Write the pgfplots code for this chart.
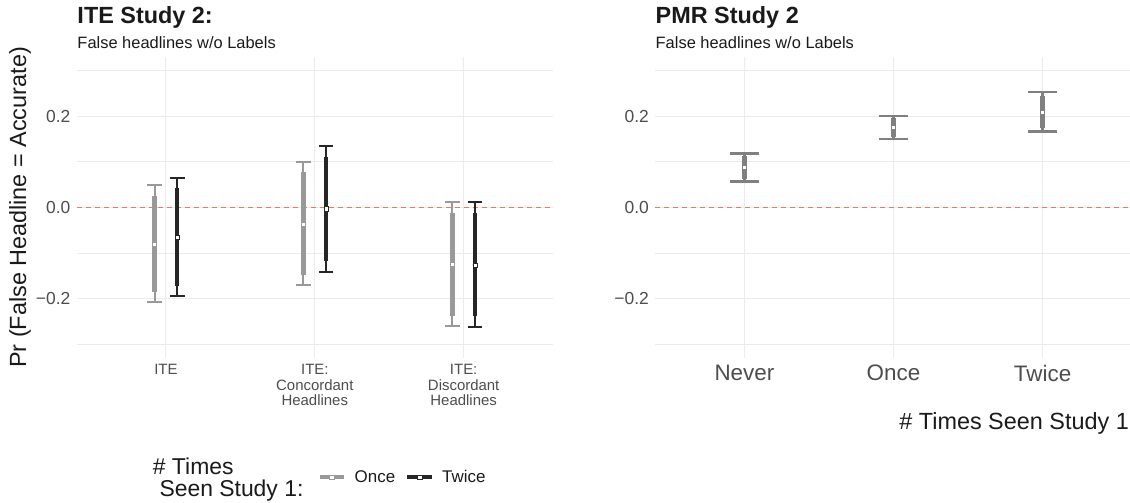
\documentclass[border=0pt]{standalone}
\usepackage{fontspec}
\setmainfont{Liberation Sans}
\usepackage{pgfplots}
\pgfplotsset{compat=1.18}
\usepackage{pgfplotstable}

\definecolor{cOnce}{HTML}{999999}
\definecolor{cTwice}{HTML}{262626}
\definecolor{cPMR}{HTML}{808080}
\definecolor{cGrid}{HTML}{EBEBEB}
\definecolor{cRef}{RGB}{240,118,100}
\definecolor{cTick}{HTML}{4D4D4D}
\definecolor{cText}{HTML}{1A1A1A}

% ITE Study 2, seen once (x = category - dodge)
\pgfplotstableread{
x y lo hi lot hit
0.924 -0.080 -0.208 0.050 -0.186 0.026
1.924 -0.036 -0.170 0.099 -0.148 0.077
2.924 -0.124 -0.259 0.012 -0.237 -0.011
}\ITEonce
% ITE Study 2, seen twice (x = category + dodge)
\pgfplotstableread{
x y lo hi lot hit
1.076 -0.065 -0.194 0.065 -0.173 0.042
2.076 -0.003 -0.142 0.134 -0.118 0.110
3.076 -0.126 -0.263 0.012 -0.239 -0.011
}\ITEtwice
% PMR Study 2
\pgfplotstableread{
x y lo hi lot hit
1 0.088 0.057 0.119 0.063 0.112
2 0.175 0.150 0.201 0.155 0.196
3 0.209 0.166 0.253 0.174 0.245
}\PMR

\pgfplotsset{
  ggpanel/.style={
    scale only axis, height=301bp,
    xmin=0.4, xmax=3.6, ymin=-0.33, ymax=0.33,
    axis line style={draw=none},
    major tick length=0pt, minor tick length=0pt,
    tick style={draw=none},
    xtick={1,2,3},
    ytick={-0.2,0,0.2},
    yticklabels={−0.2,0.0,0.2},
    minor ytick={-0.3,-0.1,0.1,0.3},
    xmajorgrids, ymajorgrids, yminorgrids,
    major grid style={cGrid, line width=1.1bp},
    minor grid style={cGrid, line width=1.0bp},
    yticklabel style={font=\fontsize{17.5}{20}\selectfont, text=cTick, inner sep=0pt, xshift=-6bp},
    clip=false,
  },
  outerbar/.style n args={3}{forget plot, only marks, mark=none, color=#1,
    error bars/.cd, y dir=both, y explicit,
    error bar style={line width=#2, color=#1, solid},
    error mark=-, error mark options={rotate=90, line width=#2, mark size=#3, color=#1, solid}},
  innerbar/.style n args={2}{forget plot, only marks, mark=none, color=#1,
    error bars/.cd, y dir=both, y explicit,
    error bar style={line width=#2, color=#1, solid, line cap=butt},
    error mark=none},
  midpt/.style n args={2}{forget plot, only marks, mark=square*, mark size=#2,
    mark options={fill=white, draw=#1, line width=0.6bp, solid}},
}

\begin{document}
\begin{tikzpicture}[x=1bp,y=1bp]
\useasboundingbox (0,0) rectangle (1130,503);
\fill[white] (0,0) rectangle (1130,503);

% ---------------- Left panel ----------------
\begin{axis}[ggpanel, at={(76.6bp,145bp)}, anchor=south west, width=476.4bp,
  xticklabels={ITE,{ITE:\\Concordant\\Headlines},{ITE:\\Discordant\\Headlines}},
  xticklabel style={font=\fontsize{15}{15.7}\selectfont, text=cTick, align=center, anchor=north, inner sep=0pt, yshift=-6bp},
  legend columns=-1,
  legend style={at={(0.5061,-0.3963)}, anchor=west, draw=none, fill=none,
    inner sep=0pt, outer sep=0pt,
    nodes={inner sep=0pt, font=\fontsize{17}{20}\selectfont, text=cText},
    /tikz/every odd column/.append style={column sep=8.4bp},
    /tikz/every even column/.append style={column sep=10bp}},
]
\draw[draw=cRef, dash pattern=on 5bp off 4bp, line width=1.1bp] (axis cs:0.4,0) -- (axis cs:3.6,0);

\addplot[outerbar={cOnce}{2bp}{7.3bp}] table[x=x, y=y, y error plus expr=\thisrow{hi}-\thisrow{y}, y error minus expr=\thisrow{y}-\thisrow{lo}] {\ITEonce};
\addplot[innerbar={cOnce}{4.3bp}] table[x=x, y=y, y error plus expr=\thisrow{hit}-\thisrow{y}, y error minus expr=\thisrow{y}-\thisrow{lot}] {\ITEonce};
\addplot[midpt={cOnce}{2.1bp}] table[x=x, y=y] {\ITEonce};

\addplot[outerbar={cTwice}{2bp}{7.3bp}] table[x=x, y=y, y error plus expr=\thisrow{hi}-\thisrow{y}, y error minus expr=\thisrow{y}-\thisrow{lo}] {\ITEtwice};
\addplot[innerbar={cTwice}{4.5bp}] table[x=x, y=y, y error plus expr=\thisrow{hit}-\thisrow{y}, y error minus expr=\thisrow{y}-\thisrow{lot}] {\ITEtwice};
\addplot[midpt={cTwice}{2.1bp}] table[x=x, y=y] {\ITEtwice};

\addlegendimage{legend image code/.code={
  \draw[cOnce, line width=4bp] (0bp,0bp) -- (24.6bp,0bp);
  \draw[cOnce, fill=white, line width=0.7bp] (9.8bp,-1.9bp) rectangle (14.8bp,1.9bp);}}
\addlegendentry{Once}
\addlegendimage{legend image code/.code={
  \draw[cTwice, line width=4bp] (0bp,0bp) -- (24.6bp,0bp);
  \draw[cTwice, fill=white, line width=0.7bp] (9.8bp,-1.9bp) rectangle (14.8bp,1.9bp);}}
\addlegendentry{Twice}
\end{axis}

% ---------------- Right panel ----------------
\begin{axis}[ggpanel, at={(655bp,145bp)}, anchor=south west, width=477bp,
  xticklabels={Never,Once,Twice},
  xticklabel style={font=\fontsize{22.5}{26}\selectfont, text=cTick, anchor=north, inner sep=0pt, yshift=-7bp},
]
\draw[draw=cRef, dash pattern=on 5bp off 4bp, line width=1.1bp] (axis cs:0.4,0) -- (axis cs:3.6,0);
\addplot[outerbar={cPMR}{2.6bp}{14.8bp}] table[x=x, y=y, y error plus expr=\thisrow{hi}-\thisrow{y}, y error minus expr=\thisrow{y}-\thisrow{lo}] {\PMR};
\addplot[innerbar={cPMR}{4.2bp}] table[x=x, y=y, y error plus expr=\thisrow{hit}-\thisrow{y}, y error minus expr=\thisrow{y}-\thisrow{lot}] {\PMR};
\addplot[midpt={cPMR}{2.1bp}] table[x=x, y=y] {\PMR};
\end{axis}

% ---------------- Titles and labels ----------------
\node[anchor=base west, inner sep=0pt, text=cText, font=\fontsize{23.5}{27}\selectfont\bfseries] at (77.3,479.7) {ITE Study 2:};
\node[anchor=base west, inner sep=0pt, text=cText, font=\fontsize{16.5}{19}\selectfont] at (77.3,454.7) {False headlines w/o Labels};
\node[anchor=base west, inner sep=0pt, text=cText, font=\fontsize{23.5}{27}\selectfont\bfseries] at (655.5,479.7) {PMR Study 2};
\node[anchor=base west, inner sep=0pt, text=cText, font=\fontsize{16.5}{19}\selectfont] at (655.5,454.7) {False headlines w/o Labels};

\node[rotate=90, anchor=base, inner sep=0pt, text=cText, font=\fontsize{23.5}{27}\selectfont] at (26,295.5) {Pr (False Headline = Accurate)};

\node[anchor=base east, inner sep=0pt, text=cText, font=\fontsize{23.5}{27}\selectfont] at (1129,73) {\# Times Seen Study 1};

\node[anchor=base west, inner sep=0pt, text=cText, font=\fontsize{23}{27}\selectfont] at (152.7,28.3) {\# Times};
\node[anchor=base west, inner sep=0pt, text=cText, font=\fontsize{23}{27}\selectfont] at (159.3,6) {Seen Study 1:};
\end{tikzpicture}
\end{document}
